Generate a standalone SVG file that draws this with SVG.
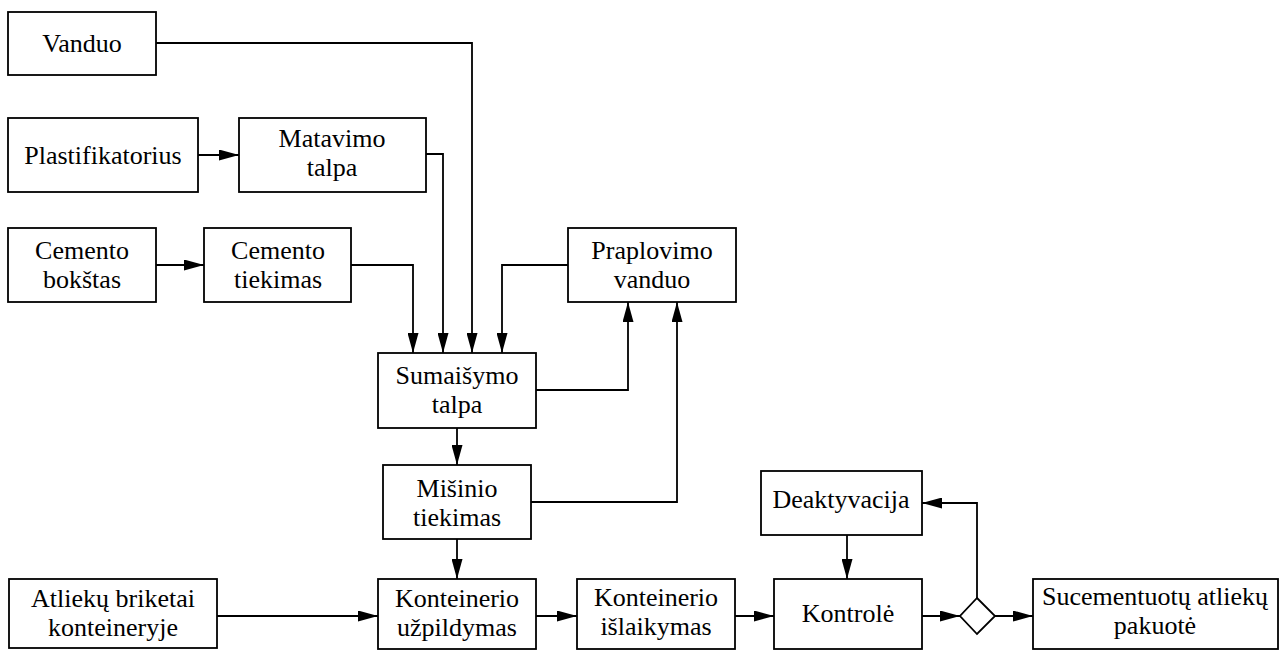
<svg xmlns="http://www.w3.org/2000/svg" width="1284" height="651" viewBox="0 0 1284 651" font-family="Liberation Serif, serif">
<style>
.box{fill:#fff;stroke:#000;stroke-width:1.8}
text{font-family:"Liberation Serif",serif;font-size:26px;fill:#000;text-anchor:middle}
.c{fill:none;stroke:#000;stroke-width:1.8}
</style>
<defs>
<marker id="ah" markerUnits="userSpaceOnUse" markerWidth="21" markerHeight="11" refX="20" refY="5.5" orient="auto">
<path d="M0,0 L20,5.5 L0,11 z" fill="#000"/>
</marker>
</defs>
<rect width="1284" height="651" fill="#fff"/>
<g id="connectors">
<polyline class="c" points="156,43 472,43 472,353" marker-end="url(#ah)"/>
<polyline class="c" points="426,154 443,154 443,353" marker-end="url(#ah)"/>
<polyline class="c" points="351,265 413,265 413,353" marker-end="url(#ah)"/>
<polyline class="c" points="568,265 502,265 502,353" marker-end="url(#ah)"/>
<line class="c" x1="198" y1="155" x2="239" y2="155" marker-end="url(#ah)"/>
<line class="c" x1="156" y1="265" x2="204" y2="265" marker-end="url(#ah)"/>
<polyline class="c" points="536,390 628,390 628,302" marker-end="url(#ah)"/>
<polyline class="c" points="531,502 677,502 677,302" marker-end="url(#ah)"/>
<line class="c" x1="457" y1="428" x2="457" y2="465" marker-end="url(#ah)"/>
<line class="c" x1="457" y1="539" x2="457" y2="579" marker-end="url(#ah)"/>
<line class="c" x1="217" y1="616" x2="378" y2="616" marker-end="url(#ah)"/>
<line class="c" x1="536" y1="616" x2="577" y2="616" marker-end="url(#ah)"/>
<line class="c" x1="735" y1="616" x2="774" y2="616" marker-end="url(#ah)"/>
<line class="c" x1="922" y1="616" x2="960" y2="616" marker-end="url(#ah)"/>
<line class="c" x1="995" y1="616" x2="1033" y2="616" marker-end="url(#ah)"/>
<polyline class="c" points="977,598 977,503 922,503" marker-end="url(#ah)"/>
<line class="c" x1="847" y1="535" x2="847" y2="579" marker-end="url(#ah)"/>
</g>
<g id="vanduo"><rect class="box" x="8" y="12" width="148" height="63"/><text x="82" y="52">Vanduo</text></g>
<g id="plastifikatorius"><rect class="box" x="8" y="118" width="190" height="74"/><text x="103" y="164">Plastifikatorius</text></g>
<g id="matavimo"><rect class="box" x="239" y="118" width="187" height="74"/><text x="332" y="147">Matavimo</text><text x="332" y="176">talpa</text></g>
<g id="cemento-bokstas"><rect class="box" x="8" y="228" width="148" height="74"/><text x="82" y="259">Cemento</text><text x="82" y="288">bokštas</text></g>
<g id="cemento-tiekimas"><rect class="box" x="204" y="228" width="147" height="74"/><text x="278" y="259">Cemento</text><text x="278" y="288">tiekimas</text></g>
<g id="praplovimo"><rect class="box" x="568" y="228" width="168" height="74"/><text x="652" y="259">Praplovimo</text><text x="652" y="288">vanduo</text></g>
<g id="sumaisymo"><rect class="box" x="378" y="353" width="158" height="75"/><text x="457" y="384">Sumaišymo</text><text x="457" y="413">talpa</text></g>
<g id="misinio"><rect class="box" x="383" y="465" width="148" height="74"/><text x="457" y="497">Mišinio</text><text x="457" y="526">tiekimas</text></g>
<g id="atlieku"><rect class="box" x="9" y="579" width="208" height="69"/><text x="113" y="607">Atliekų briketai</text><text x="113" y="636">konteineryje</text></g>
<g id="uzpildymas"><rect class="box" x="378" y="579" width="158" height="70"/><text x="457" y="607">Konteinerio</text><text x="457" y="636">užpildymas</text></g>
<g id="islaikymas"><rect class="box" x="577" y="579" width="158" height="70"/><text x="656" y="606">Konteinerio</text><text x="656" y="635">išlaikymas</text></g>
<g id="kontrole"><rect class="box" x="774" y="579" width="148" height="70"/><text x="848" y="622">Kontrolė</text></g>
<g id="deaktyvacija"><rect class="box" x="761" y="471" width="161" height="64"/><text x="841" y="508">Deaktyvacija</text></g>
<g id="decision"><polygon class="box" points="977,598 995,616 977,634 960,616"/></g>
<g id="sucementuotu"><rect class="box" x="1033" y="579" width="245" height="70"/><text x="1155" y="605">Sucementuotų atliekų</text><text x="1155" y="634">pakuotė</text></g>
</svg>
